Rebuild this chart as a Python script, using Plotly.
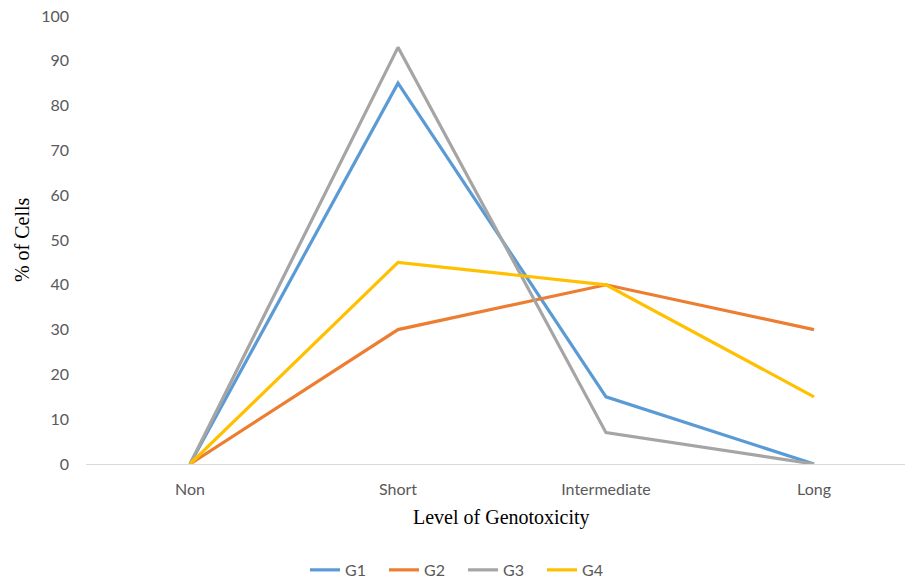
import plotly.graph_objects as go

categories = ["Non", "Short", "Intermediate", "Long"]
g1 = [0, 85, 15, 0]
g2 = [0, 30, 40, 30]
g3 = [0, 93, 7, 0]
g4 = [0, 45, 40, 15]
y_ticks = list(range(0, 101, 10))

series = [("G1", g1, "#5B9BD5"), ("G2", g2, "#ED7D31"),
          ("G3", g3, "#A5A5A5"), ("G4", g4, "#FFC000")]

serif = "Liberation Serif, Times New Roman, serif"

fig = go.Figure()
for name, vals, color in series:
    fig.add_trace(go.Scatter(x=list(range(len(categories))), y=vals, name=name,
                             mode="lines", line=dict(color=color, width=3.2)))

fig.update_layout(
    width=905, height=581,
    margin=dict(l=86, r=0, t=16, b=117, autoexpand=False),
    plot_bgcolor="white", paper_bgcolor="white",
    font=dict(family="Lato, Open Sans, sans-serif", size=16, color="#595959"),
    showlegend=True,
    legend=dict(orientation="h", xref="container", yref="container",
                x=0.337, xanchor="left", y=0.019, yanchor="middle",
                font=dict(size=16, color="#595959"),
                entrywidth=34, entrywidthmode="pixels", tracegroupgap=0),
    annotations=[
        dict(text="% of Cells", xref="paper", yref="paper", x=-0.078, y=0.5,
             textangle=-90, showarrow=False, xanchor="center", yanchor="middle",
             font=dict(family=serif, size=20, color="black")),
        dict(text="Level of Genotoxicity", xref="paper", yref="paper", x=0.507, y=-0.1205,
             showarrow=False, xanchor="center", yanchor="middle",
             font=dict(family=serif, size=20, color="black")),
    ],
)
fig.update_xaxes(
    tickmode="array", tickvals=list(range(len(categories))), ticktext=categories,
    range=[-0.5, 3.4375], showgrid=False, zeroline=False,
    showline=True, linecolor="#D9D9D9", linewidth=1, ticks="", ticklabelstandoff=11,
)
fig.update_yaxes(
    range=[0, 100], tickvals=y_ticks, showgrid=False, zeroline=False,
    showline=False, ticks="", ticklabelstandoff=16,
)
fig.write_html("out.html")
